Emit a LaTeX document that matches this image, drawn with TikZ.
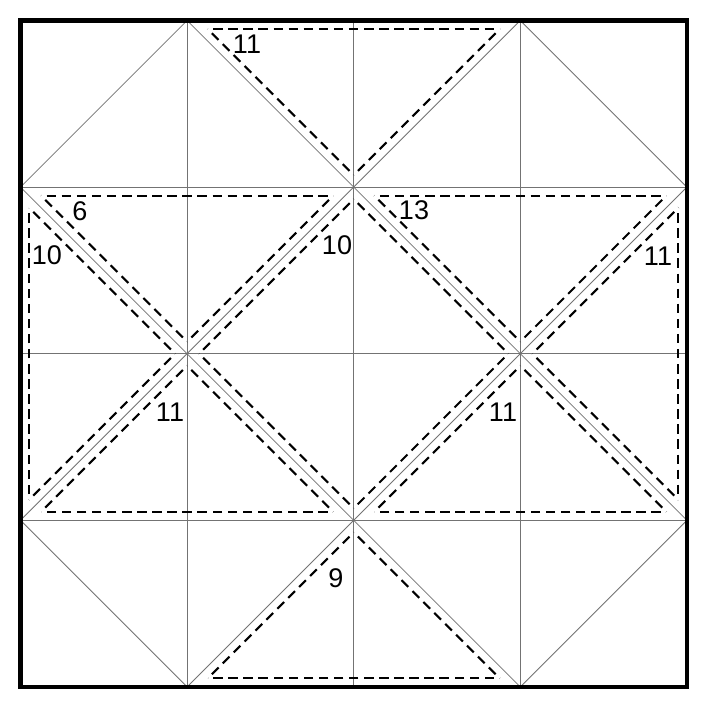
\documentclass[tikz,border=0pt]{standalone}
\usepackage{fontspec}
\setmainfont{Liberation Sans}
\usetikzlibrary{decorations}
\begin{document}
\begin{tikzpicture}[x=1pt,y=-1pt,
  thin line/.style={draw=black!55,line width=0.8pt},
  cutline/.style={draw=black,line width=2.1pt,dash pattern=on 9.5pt off 5.5pt,dash expand off},
  frame/.style={draw=black,line width=4.4pt},
  lab/.style={font=\fontsize{27}{27}\selectfont,inner sep=0pt,text=black}]
\useasboundingbox (0,0) rectangle (708,708);
\fill[white] (0,0) rectangle (708,708);
% grid points
\foreach \i/\v in {0/20.5,1/187.1,2/353.7,3/520.3,4/686.9}{
  \foreach \j/\w in {0/20.5,1/187.1,2/353.7,3/520.3,4/686.9}{
    \coordinate (g\i\j) at (\v,\w);
  }
}
% grid lines
\foreach \k in {1,2,3}{
  \draw[thin line] (g\k0) -- (g\k4);
  \draw[thin line] (g0\k) -- (g4\k);
}
% diagonals
\draw[thin line] (g10) -- (g43);
\draw[thin line] (g30) -- (g41);
\draw[thin line] (g01) -- (g34);
\draw[thin line] (g03) -- (g14);
\draw[thin line] (g10) -- (g01);
\draw[thin line] (g30) -- (g03);
\draw[thin line] (g41) -- (g14);
\draw[thin line] (g43) -- (g34);
% dashed inset pieces
\newcommand\cuttri[3]{%
  \draw[cutline] #1 -- #2; \draw[cutline] #2 -- #3; \draw[cutline] #3 -- #1;}
\newcommand\cutquad[4]{%
  \draw[cutline] #1 -- #2; \draw[cutline] #2 -- #3; \draw[cutline] #3 -- #4; \draw[cutline] #4 -- #1;}
% A top
\cuttri{(207.62,29.0)}{(499.78,29.0)}{(353.7,175.08)}
% B left-mid
\cuttri{(41.02,195.6)}{(333.18,195.6)}{(187.1,341.68)}
% C left
\cuttri{(29.0,207.62)}{(175.08,353.7)}{(29.0,499.78)}
% D diamond
\cutquad{(353.7,199.12)}{(508.28,353.7)}{(353.7,508.28)}{(199.12,353.7)}
% E right-mid
\cuttri{(374.22,195.6)}{(666.38,195.6)}{(520.3,341.68)}
% F right
\cuttri{(678.4,207.62)}{(678.4,499.78)}{(532.32,353.7)}
% G bottom-left
\cuttri{(187.1,365.72)}{(333.18,511.8)}{(41.02,511.8)}
% H bottom-right
\cuttri{(520.3,365.72)}{(666.38,511.8)}{(374.22,511.8)}
% I bottom
\cuttri{(353.7,532.32)}{(499.78,678.4)}{(207.62,678.4)}
% frame
\draw[frame] (g00) rectangle (g44);
% labels
\node[lab] (la) at (247,44) {11};
\node[lab] (lb) at (80,211) {6};
\node[lab] (lc) at (47,255) {10};
\node[lab] (ld) at (337,245) {10};
\node[lab] (le) at (414,210) {13};
\node[lab] (lf) at (658,256) {11};
\node[lab] (lg) at (170,412) {11};
\node[lab] (lh) at (503,412) {11};
\node[lab] (li) at (336,578) {9};
\end{tikzpicture}
\end{document}
